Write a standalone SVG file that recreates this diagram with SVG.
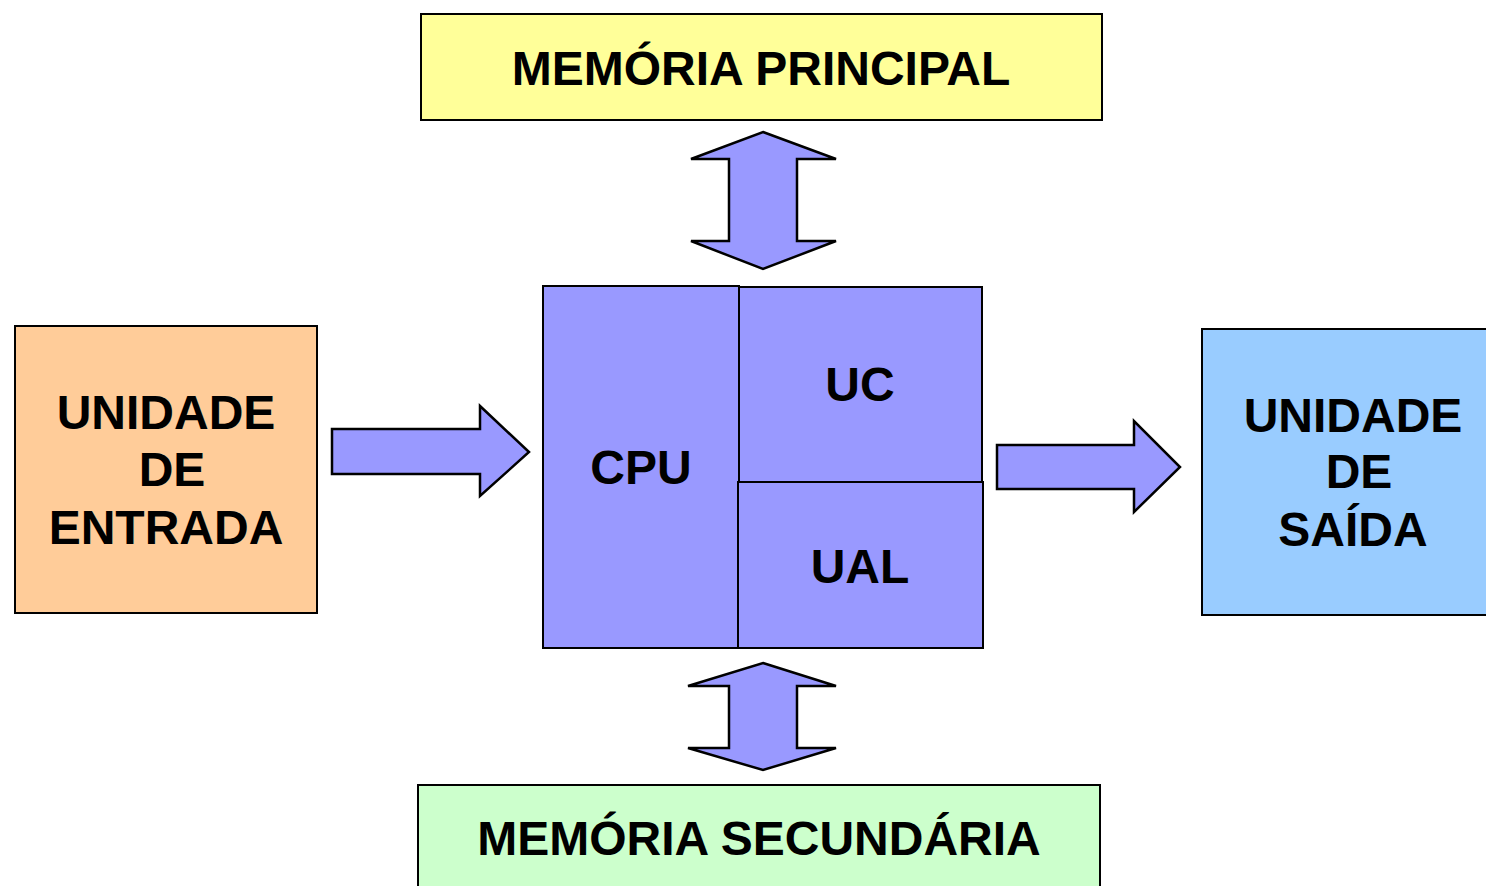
<svg xmlns="http://www.w3.org/2000/svg" width="1486" height="886" viewBox="0 0 1486 886">
<style>
.box{stroke:#000;stroke-width:2}
.arr{fill:#9999FF;stroke:#000;stroke-width:2.5;stroke-linejoin:miter}
text{font-family:"Liberation Sans",Arial,sans-serif;font-weight:bold;font-size:48px;fill:#000;text-anchor:middle}
</style>
<rect width="1486" height="886" fill="#fff"/>
<g id="memoria-principal">
<rect class="box" x="421" y="14" width="681" height="106" fill="#FFFF99"/>
<text x="761" y="85">MEMÓRIA PRINCIPAL</text>
</g>
<g id="unidade-entrada">
<rect class="box" x="15" y="326" width="302" height="287" fill="#FFCC99"/>
<text x="166" y="429">UNIDADE</text>
<text x="172" y="486">DE</text>
<text x="166" y="544">ENTRADA</text>
</g>
<g id="cpu">
<rect class="box" x="543" y="286" width="196" height="362" fill="#9999FF"/>
<text x="641" y="484">CPU</text>
</g>
<g id="uc">
<rect class="box" x="739" y="287" width="243" height="195" fill="#9999FF"/>
<text x="860" y="401">UC</text>
</g>
<g id="ual">
<rect class="box" x="738" y="482" width="245" height="166" fill="#9999FF"/>
<text x="860" y="583">UAL</text>
</g>
<g id="unidade-saida">
<rect class="box" x="1202" y="329" width="290" height="286" fill="#99CCFF"/>
<text x="1353" y="432">UNIDADE</text>
<text x="1359" y="488">DE</text>
<text x="1353" y="546">SAÍDA</text>
</g>
<g id="memoria-secundaria">
<rect class="box" x="418" y="785" width="682" height="110" fill="#CCFFCC"/>
<text x="759" y="855">MEMÓRIA SECUNDÁRIA</text>
</g>
<g id="connectors">
<polygon class="arr" points="763,132 836,159 797,159 797,241 836,241 763,269 691,241 729,241 729,159 691,159"/>
<polygon class="arr" points="763,663 836,686 797,686 797,748 836,748 763,770 688,748 729,748 729,686 688,686"/>
<polygon class="arr" points="332,429 480,429 480,406 529,452 480,496 480,474 332,474"/>
<polygon class="arr" points="997,445 1134,445 1134,421 1180,467 1134,512 1134,489 997,489"/>
</g>
</svg>
